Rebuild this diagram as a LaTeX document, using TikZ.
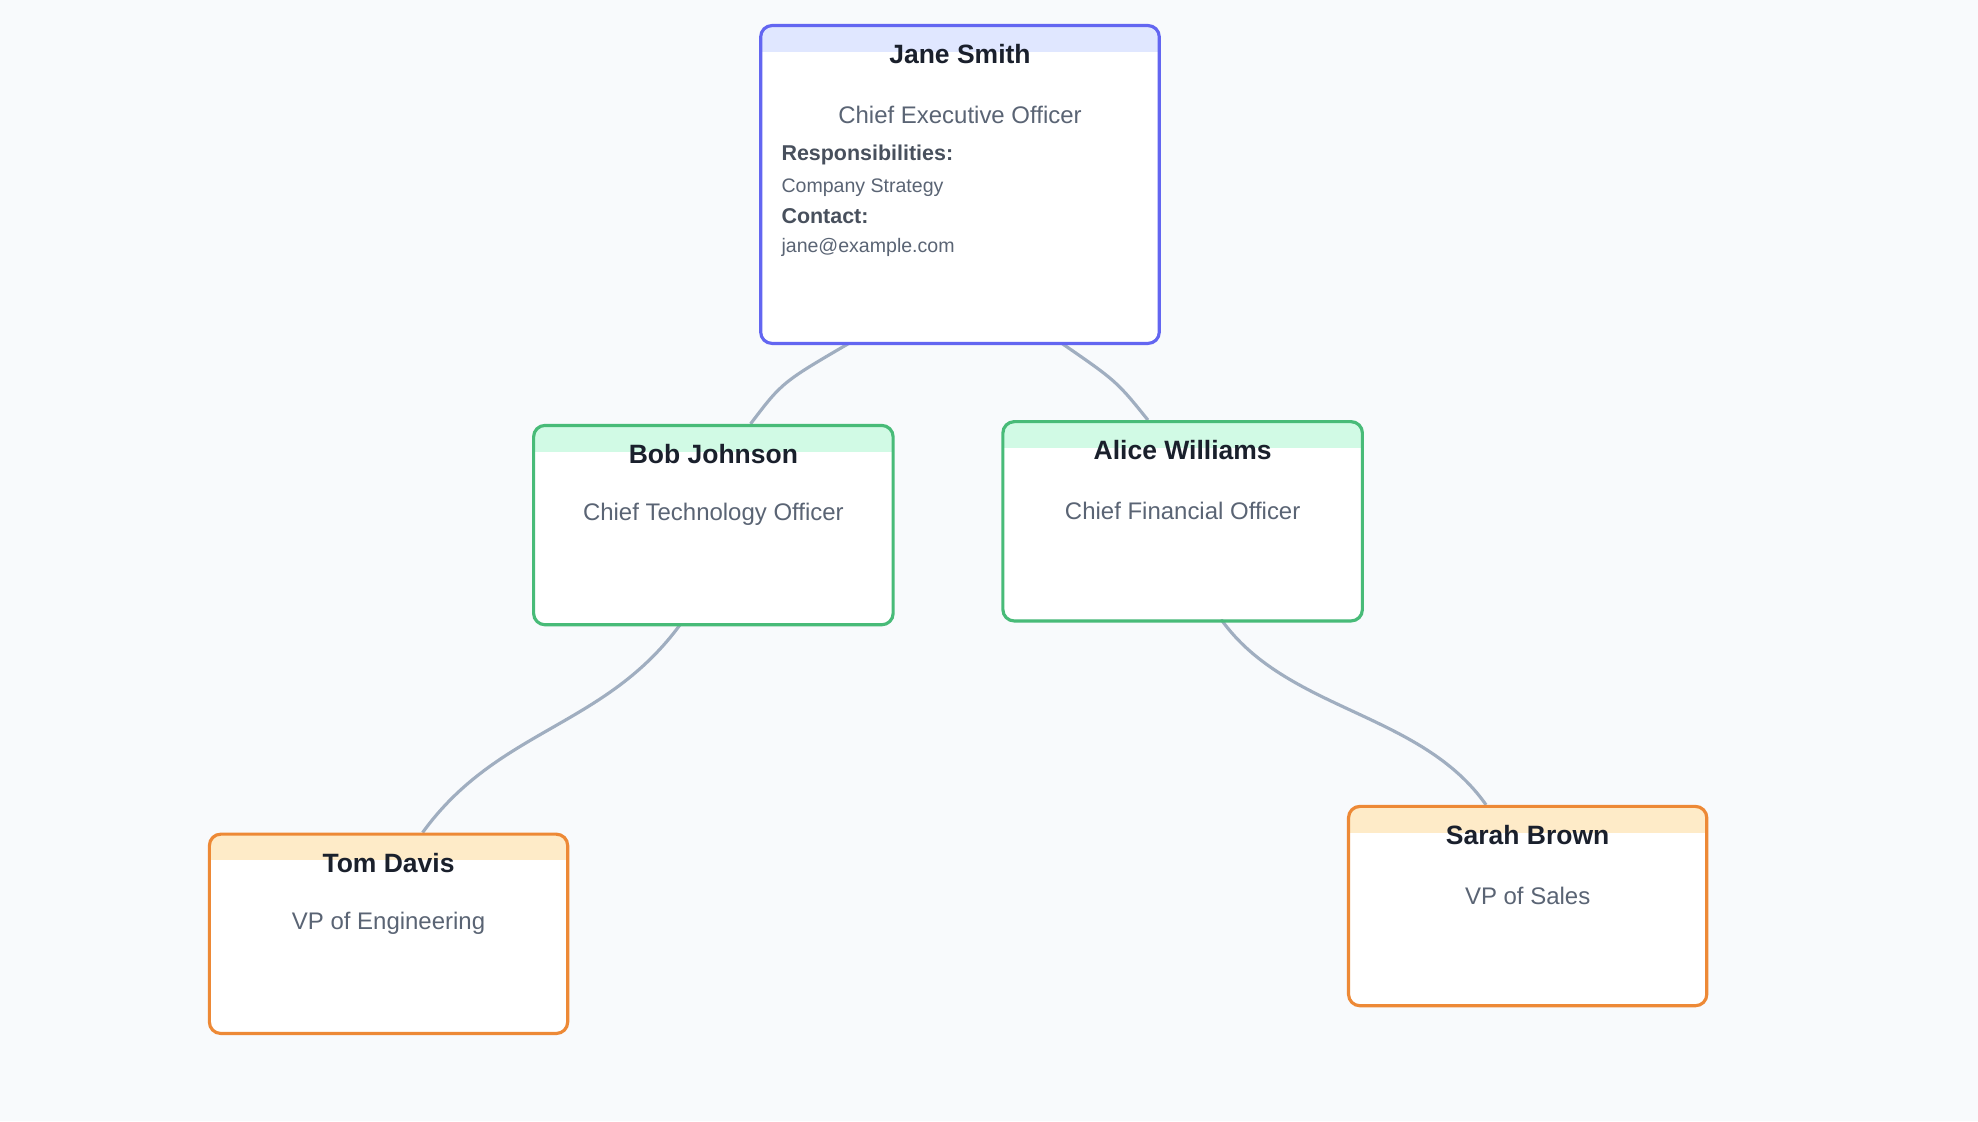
\documentclass[tikz,border=0pt]{standalone}
\usepackage{fontspec}
\setmainfont{Liberation Sans}
\usetikzlibrary{positioning}
\definecolor{bgcol}{HTML}{F8FAFC}
\definecolor{ceoline}{HTML}{6366F1}
\definecolor{ceohead}{HTML}{E0E7FF}
\definecolor{cxoline}{HTML}{48BB78}
\definecolor{cxohead}{HTML}{D1FAE5}
\definecolor{vpline}{HTML}{ED8936}
\definecolor{vphead}{HTML}{FEEBC8}
\definecolor{linkcol}{HTML}{A0AEC0}
\definecolor{namecol}{HTML}{1A202C}
\definecolor{rolecol}{HTML}{5A6474}
\tikzset{
  card/.style={draw=#1,line width=2.5pt,rounded corners=9pt,fill=white,inner sep=0pt,anchor=north},
  namelbl/.style={font=\fontsize{21}{25}\selectfont\bfseries,text=namecol},
  rolelbl/.style={font=\fontsize{19}{23}\selectfont,text=rolecol},
  infolbl/.style={font=\fontsize{15.5}{18}\selectfont,text=rolecol,anchor=west},
  infohead/.style={font=\fontsize{17}{20}\selectfont\bfseries,text=rolecol!80!black,anchor=west},
  link/.style={draw=linkcol,line width=2.5pt}
}
% card: name, centre x, top y, width, height, line colour, head colour
\newcommand{\orgcard}[7]{
  \begin{scope}
    \clip[rounded corners=9pt] (#2-#4/2,#3) rectangle (#2+#4/2,#3+#5);
    \fill[white] (#2-#4/2,#3) rectangle (#2+#4/2,#3+#5);
    \fill[#7] (#2-#4/2,#3) rectangle (#2+#4/2,#3+22);
  \end{scope}
  \node[card=#6,minimum width=#4pt,minimum height=#5pt,fill=none] (#1) at (#2,#3) {};
}
\begin{document}
\begin{tikzpicture}[x=1pt,y=-1pt]
  \fill[bgcol] (0,0) rectangle (1568,889);
  \useasboundingbox (0,0) rectangle (1568,889);

  % LINKS
  \coordinate (l1a) at (675,271); \coordinate (l1b) at (595,336);
  \coordinate (l2a) at (840,271); \coordinate (l2b) at (910,333);
  \coordinate (l3a) at (540,494); \coordinate (l3b) at (335,660);
  \coordinate (l4a) at (968,491); \coordinate (l4b) at (1178,638);
  \draw[link] (l1a) .. controls (620,303) and (620,303) .. (l1b);
  \draw[link] (l2a) .. controls (885,302) and (885,302) .. (l2b);
  \draw[link] (l3a) .. controls (480,577) and (395,577) .. (l3b);
  \draw[link] (l4a) .. controls (1020,564) and (1126,564) .. (l4b);

  % CARDS
  \orgcard{jane}{761}{19}{316}{252}{ceoline}{ceohead}
  \orgcard{bob}{565.5}{336}{285}{158}{cxoline}{cxohead}
  \orgcard{alice}{937.5}{333}{285}{158}{cxoline}{cxohead}
  \orgcard{tom}{308}{660}{284}{158}{vpline}{vphead}
  \orgcard{sarah}{1211}{638}{284}{158}{vpline}{vphead}

  % TEXTS
  \node[namelbl] (janename) at (761,43) {Jane Smith};
  \node[rolelbl] (janerole) at (761,91) {Chief Executive Officer};
  \node[infohead] (janeresp) at (616,123) {Responsibilities:};
  \node[infolbl] (janestrat) at (616,149) {Company Strategy};
  \node[infohead] (janecont) at (616,171) {Contact:};
  \node[infolbl] (janemail) at (616,196) {jane@example.com};

  \node[namelbl] (bobname) at (565.5,360) {Bob Johnson};
  \node[rolelbl] (bobrole) at (565.5,408) {Chief Technology Officer};
  \node[namelbl] (alicename) at (937.5,357) {Alice Williams};
  \node[rolelbl] (alicerole) at (937.5,405) {Chief Financial Officer};
  \node[namelbl] (tomname) at (308,684) {Tom Davis};
  \node[rolelbl] (tomrole) at (308,732) {VP of Engineering};
  \node[namelbl] (sarahname) at (1211,662) {Sarah Brown};
  \node[rolelbl] (sarahrole) at (1211,710) {VP of Sales};
\end{tikzpicture}
\end{document}
